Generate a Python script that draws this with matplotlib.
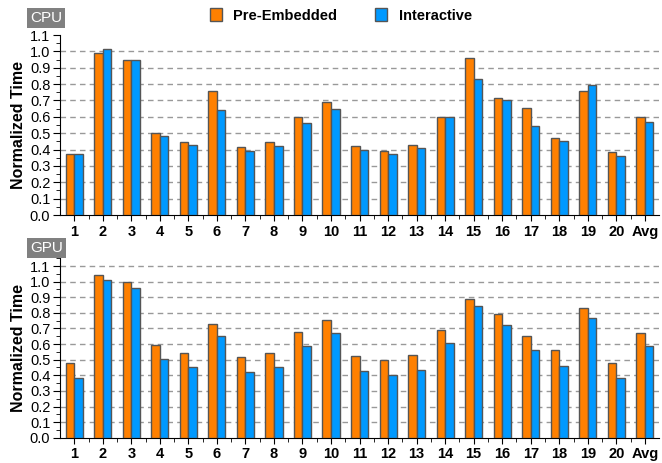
import numpy as np
import matplotlib.pyplot as plt
from matplotlib.ticker import MultipleLocator

plt.rcParams['font.family'] = ['Liberation Sans', 'DejaVu Sans']

labels = [str(i) for i in range(1, 21)] + ['Avg']

cpu_pre = [0.375, 0.99, 0.945, 0.50, 0.445, 0.755, 0.415, 0.445, 0.60, 0.69,
           0.42, 0.39, 0.425, 0.60, 0.96, 0.715, 0.655, 0.47, 0.755, 0.385, 0.60]
cpu_int = [0.37, 1.015, 0.95, 0.48, 0.43, 0.64, 0.39, 0.42, 0.56, 0.65,
           0.40, 0.375, 0.41, 0.60, 0.83, 0.70, 0.545, 0.45, 0.795, 0.36, 0.57]

gpu_pre = [0.48, 1.04, 1.0, 0.595, 0.545, 0.73, 0.515, 0.545, 0.68, 0.755,
           0.525, 0.495, 0.53, 0.69, 0.89, 0.79, 0.655, 0.56, 0.83, 0.48, 0.67]
gpu_int = [0.38, 1.01, 0.96, 0.505, 0.455, 0.65, 0.42, 0.455, 0.585, 0.67,
           0.43, 0.40, 0.435, 0.61, 0.845, 0.72, 0.56, 0.46, 0.77, 0.385, 0.585]

orange = '#FF8000'
blue = '#0099FF'
edge = '#555555'
w = 0.3

fig = plt.figure(figsize=(6.62, 4.63), dpi=100)
ax1 = fig.add_axes([0.0906, 0.5356, 0.905, 0.3888])
ax2 = fig.add_axes([0.0906, 0.0546, 0.905, 0.3876])


def draw(ax, pre, inter, ytop, tag, tag_y):
    x = np.arange(len(labels))
    ax.bar(x - w / 2, pre, w, color=orange, edgecolor=edge, linewidth=1,
           label='Pre-Embedded', zorder=3)
    ax.bar(x + w / 2, inter, w, color=blue, edgecolor=edge, linewidth=1,
           label='Interactive', zorder=3)
    ax.set_xlim(-0.5, len(labels) - 0.5)
    ax.set_ylim(0, ytop)
    ax.set_xticks(x)
    ax.set_xticklabels(labels, fontweight='bold', fontsize=10.5)
    ax.set_xticks(x[:-1] + 0.5, minor=True)
    ax.tick_params(axis='x', which='major', length=4, direction='out', pad=3)
    ax.tick_params(axis='x', which='minor', length=3, direction='out')
    ax.set_yticks(np.arange(0, 1.11, 0.1))
    ax.set_yticklabels(['%.1f' % v for v in np.arange(0, 1.11, 0.1)], fontsize=10.5)
    ax.yaxis.set_minor_locator(MultipleLocator(0.05))
    ax.tick_params(axis='y', which='major', length=5, direction='out', pad=2)
    ax.tick_params(axis='y', which='minor', length=3, direction='out')
    for v in np.arange(0.1, 1.11, 0.1):
        if v < ytop - 0.02:
            ax.axhline(v, color='#999999', linestyle=(0, (4, 3)), linewidth=1, zorder=1)
    ax.spines['top'].set_visible(False)
    ax.spines['right'].set_visible(False)
    ax.set_ylabel('Normalized Time', fontweight='bold', fontsize=11.5, labelpad=3)
    ax.text(-0.05, tag_y, tag, transform=ax.transAxes,
            fontsize=11, color='white', va='bottom', ha='left',
            bbox=dict(facecolor='#808080', edgecolor='none', pad=2.2))


draw(ax1, cpu_pre, cpu_int, 1.1, 'CPU', 1.055)
draw(ax2, gpu_pre, gpu_int, 1.15, 'GPU', 1.02)

fig.legend(*ax1.get_legend_handles_labels(), loc='upper center',
           bbox_to_anchor=(0.515, 1.01), ncol=2, frameon=False,
           prop={'weight': 'bold', 'size': 10.5}, handlelength=0.8,
           handleheight=0.9, columnspacing=2.6, handletextpad=0.8)

fig.savefig('out.png', dpi=100)
